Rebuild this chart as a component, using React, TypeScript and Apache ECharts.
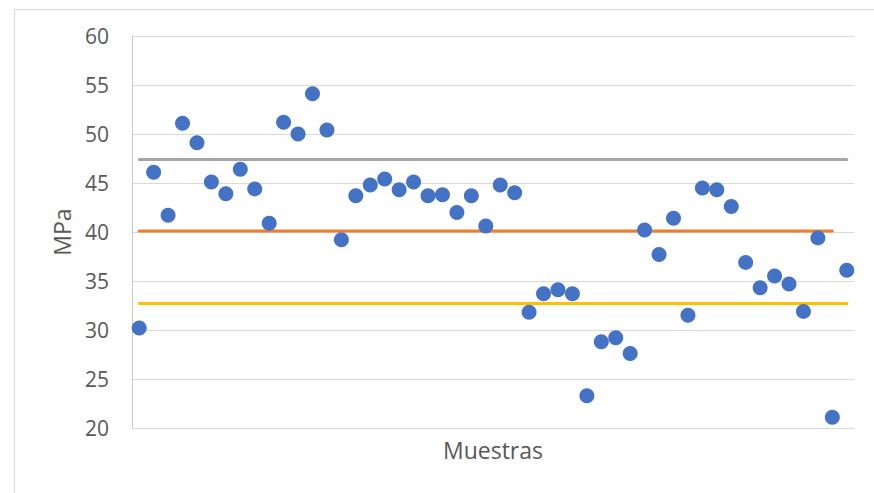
import React, { useEffect, useRef } from "react";
import * as echarts from "echarts";

// Sample indices 1..50 (category labels are hidden on the chart)
const samples: string[] = Array.from({ length: 50 }, (_, i) => String(i + 1));

// Measured strength of each sample, MPa
const strength: number[] = [
  30.2, 46.1, 41.7, 51.1, 49.1, 45.1, 43.9, 46.4, 44.4, 40.9,
  51.2, 50.0, 54.1, 50.4, 39.2, 43.7, 44.8, 45.4, 44.3, 45.1,
  43.7, 43.8, 42.0, 43.7, 40.6, 44.8, 44.0, 31.8, 33.7, 34.1,
  33.7, 23.3, 28.8, 29.2, 27.6, 40.2, 37.7, 41.4, 31.5, 44.5,
  44.3, 42.6, 36.9, 34.3, 35.5, 34.7, 31.9, 39.4, 21.1, 36.1,
];

// Reference levels
const upperLevel = 47.4;
const meanLevel = 40.1;
const lowerLevel = 32.7;

const upperLine: (number | string)[] = samples.map(() => upperLevel);
// the mean line stops at the second-to-last sample
const meanLine: (number | string)[] = samples.map((_, i) => (i < samples.length - 1 ? meanLevel : "-"));
const lowerLine: (number | string)[] = samples.map(() => lowerLevel);

const yTicks = { min: 20, max: 60, interval: 5 };

const FONT = "'Open Sans', 'Liberation Sans', sans-serif";

export default function App() {
  const ref = useRef<HTMLDivElement>(null);

  useEffect(() => {
    if (!ref.current) return;
    const chart = echarts.init(ref.current, undefined, { renderer: "svg" });
    const levelLine = (name: string, data: (number | string)[], color: string) => ({
      name,
      type: "line" as const,
      data,
      symbol: "none",
      lineStyle: { color, width: 3, cap: "round" as const },
      z: 2,
    });
    chart.setOption({
      animation: false,
      backgroundColor: "#ffffff",
      graphic: [
        {
          type: "rect",
          left: 12,
          top: 7,
          shape: { width: 900, height: 520 },
          style: { fill: "none", stroke: "#D9D9D9", lineWidth: 1 },
          silent: true,
          z: 0,
        },
      ],
      grid: { left: 132, right: 20, top: 36, bottom: 65 },
      xAxis: {
        type: "category",
        data: samples,
        boundaryGap: true,
        name: "Muestras",
        nameLocation: "middle",
        nameGap: 10,
        nameTextStyle: { fontFamily: FONT, fontSize: 23, color: "#595959" },
        axisLine: { show: true, lineStyle: { color: "#D9D9D9", width: 1 } },
        axisTick: { show: false },
        axisLabel: { show: false },
        splitLine: { show: false },
      },
      yAxis: {
        type: "value",
        min: yTicks.min,
        max: yTicks.max,
        interval: yTicks.interval,
        name: "MPa",
        nameLocation: "middle",
        nameGap: 59,
        nameRotate: 90,
        nameTextStyle: { fontFamily: FONT, fontSize: 23, color: "#595959" },
        axisLine: { show: true, lineStyle: { color: "#C8C8C8", width: 1 } },
        axisTick: { show: false },
        axisLabel: { fontFamily: FONT, fontSize: 21, color: "#595959", margin: 23 },
        splitLine: { show: true, lineStyle: { color: "#D9D9D9", width: 1 } },
      },
      series: [
        levelLine("Superior", upperLine, "#A5A5A5"),
        levelLine("Media", meanLine, "#ED7D31"),
        levelLine("Inferior", lowerLine, "#FFC000"),
        {
          name: "Resistencia",
          type: "scatter",
          data: strength,
          symbol: "circle",
          symbolSize: 15,
          itemStyle: { color: "#4472C4", opacity: 1 },
          z: 3,
        },
      ],
    });
    return () => chart.dispose();
  }, []);

  return (
    <div
      ref={ref}
      style={{ position: "fixed", left: 0, top: 0, width: 874, height: 493, background: "#fff" }}
    />
  );
}
